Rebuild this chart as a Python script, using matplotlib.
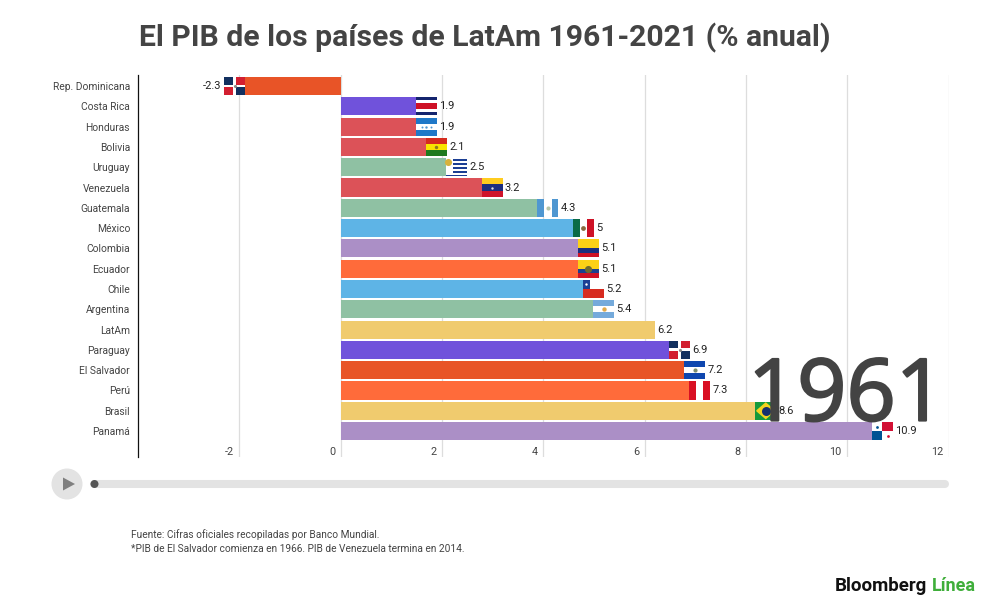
"""PIB de los países de LatAm, cuadro de 1961 de la carrera de barras."""

import matplotlib

matplotlib.use("Agg")
import matplotlib.patheffects as pe
import matplotlib.pyplot as plt
from matplotlib.patches import Circle, Polygon
from matplotlib.transforms import ScaledTranslation

plt.rcParams["font.family"] = ["Roboto", "DejaVu Sans"]

COUNTRIES = [
    "Rep. Dominicana", "Costa Rica", "Honduras", "Bolivia", "Uruguay",
    "Venezuela", "Guatemala", "México", "Colombia", "Ecuador", "Chile",
    "Argentina", "LatAm", "Paraguay", "El Salvador", "Perú", "Brasil", "Panamá",
]
GDP_1961 = [-2.3, 1.9, 1.9, 2.1, 2.5, 3.2, 4.3, 5, 5.1, 5.1, 5.2, 5.4, 6.2,
            6.9, 7.2, 7.3, 8.6, 10.9]
BAR_COLORS = [
    "#E85427", "#7052DB", "#DC5258", "#DC5258", "#8FC1A3", "#DC5258",
    "#8FC1A3", "#5EB4E6", "#AB8FC6", "#FF6B3A", "#5EB4E6", "#8FC1A3",
    "#F0CB6E", "#7052DB", "#E85427", "#FF6B3A", "#F0CB6E", "#AB8FC6",
]
X_TICKS = [-2, 0, 2, 4, 6, 8, 10, 12]

NAVY = "#12305F"
RED = "#D21F30"
WHITE = "#FFFFFF"
# cada bandera: (x0, x1, y0, y1, color) en fracción del rectángulo, y hacia abajo
DOMINICAN = [(0, 1, 0, 1, WHITE), (0, .42, 0, .42, NAVY), (.58, 1, 0, .42, RED),
             (0, .42, .58, 1, RED), (.58, 1, .58, 1, NAVY)]
FLAGS = {
    "Rep. Dominicana": DOMINICAN,
    "Paraguay": DOMINICAN,
    "Costa Rica": [(0, 1, 0, 1, WHITE), (0, 1, 0, .16, "#14246E"),
                   (0, 1, .33, .67, "#CE1126"), (0, 1, .84, 1, "#14246E")],
    "Honduras": [(0, 1, 0, .33, "#1F78C8"), (0, 1, .33, .67, WHITE),
                 (0, 1, .67, 1, "#1F78C8")],
    "Bolivia": [(0, 1, 0, .33, "#D52B1E"), (0, 1, .33, .67, "#F9E300"),
                (0, 1, .67, 1, "#1F7A1F")],
    "Uruguay": [(0, 1, 0, 1, WHITE), (.32, 1, .03, .13, "#1C3F94"),
                (.32, 1, .27, .37, "#1C3F94"), (.32, 1, .5, .6, "#1C3F94"),
                (.32, 1, .73, .83, "#1C3F94"), (0, 1, .92, 1, "#1C3F94")],
    "Venezuela": [(0, 1, 0, .33, "#FFCC1F"), (0, 1, .33, .67, "#1C2F7F"),
                  (0, 1, .67, 1, "#CF142B")],
    "Guatemala": [(0, .33, 0, 1, "#4F97D1"), (.33, .67, 0, 1, WHITE),
                  (.67, 1, 0, 1, "#4F97D1")],
    "México": [(0, .33, 0, 1, "#0B6B47"), (.33, .67, 0, 1, WHITE),
               (.67, 1, 0, 1, "#CE1126")],
    "Colombia": [(0, 1, 0, .5, "#FCD116"), (0, 1, .5, .75, "#1A2F80"),
                 (0, 1, .75, 1, "#CE1126")],
    "Ecuador": [(0, 1, 0, .5, "#FCD116"), (0, 1, .5, .75, "#1A3F90"),
                (0, 1, .75, 1, "#CE1126")],
    "Chile": [(0, 1, 0, .5, WHITE), (0, .33, 0, .5, "#1C3F94"),
              (0, 1, .5, 1, "#D72B1F")],
    "Argentina": [(0, 1, 0, .33, "#75AADB"), (0, 1, .33, .67, WHITE),
                  (0, 1, .67, 1, "#75AADB")],
    "El Salvador": [(0, 1, 0, .33, "#0F47AF"), (0, 1, .33, .67, WHITE),
                    (0, 1, .67, 1, "#0F47AF")],
    "Perú": [(0, .33, 0, 1, "#D91023"), (.33, .67, 0, 1, WHITE),
             (.67, 1, 0, 1, "#D91023")],
    "Brasil": [(0, 1, 0, 1, "#159A3B")],
    "Panamá": [(0, 1, 0, 1, WHITE), (.5, 1, 0, .5, "#D21034"),
               (0, .5, .5, 1, "#005293")],
}
# detalle central de algunas banderas: (x, y, color, tamaño)
EMBLEMS = {
    "Rep. Dominicana": [(.5, .5, "#8A8A8A", 5)],
    "Paraguay": [(.5, .5, "#8A8A8A", 5)],
    "Honduras": [(.5, .5, "#4F97D1", 3), (.3, .5, "#4F97D1", 2), (.7, .5, "#4F97D1", 2)],
    "Bolivia": [(.5, .5, "#8C7A20", 6)],
    "Uruguay": [(.1, .22, "#D6B23C", 26)],
    "Venezuela": [(.5, .5, "#E0E0E0", 3)],
    "Guatemala": [(.5, .5, "#B8C6A8", 9)],
    "México": [(.5, .5, "#8A6A40", 12)],
    "Ecuador": [(.5, .52, "#6F6A30", 26)],
    "Chile": [(.165, .25, WHITE, 3)],
    "Argentina": [(.5, .5, "#E0A94A", 10)],
    "El Salvador": [(.5, .5, "#7F8F70", 9)],
    "Panamá": [(.25, .25, "#005293", 4), (.75, .75, "#D21034", 4)],
}

FLAG_W = 0.415
BAR_H = 0.89
TEXT = "#444444"

fig = plt.figure(figsize=(10, 6.09), dpi=100, facecolor="white")
ax = fig.add_axes([0.138, 1 - 457 / 609, 0.8105, 382 / 609])

rows = list(range(len(COUNTRIES)))
ax.barh(rows, GDP_1961, height=BAR_H, color=BAR_COLORS, zorder=2)

for row, (name, val) in enumerate(zip(COUNTRIES, GDP_1961)):
    x_left = val if val < 0 else val - FLAG_W
    for x0, x1, y0, y1, col in FLAGS.get(name, []):
        ax.barh(row + (y0 - 0.5) * BAR_H, (x1 - x0) * FLAG_W,
                left=x_left + x0 * FLAG_W, height=(y1 - y0) * BAR_H,
                align="edge", color=col, zorder=3)
    for ex, ey, col, size in EMBLEMS.get(name, []):
        ax.scatter(x_left + ex * FLAG_W, row + (ey - 0.5) * BAR_H, s=size,
                   color=col, linewidths=0, zorder=4)
    if name == "Brasil":
        cx = x_left + FLAG_W / 2
        ax.fill([x_left + 0.03, cx, val - 0.03, cx],
                [row, row - 0.38, row, row + 0.38], color="#F4D320", zorder=4)
        ax.scatter(cx, row, s=42, color="#15306F", linewidths=0, zorder=5)
    ax.annotate(f"{val:g}", (val, row), xytext=(-2 if val < 0 else 1.5, 0),
                textcoords="offset points", ha="right" if val < 0 else "left",
                va="center", fontsize=8, color="#222222", zorder=6)

ax.set_xlim(-4, 12)
ax.set_ylim(18.276, -0.542)
ax.set_yticks(rows)
ax.set_yticklabels(COUNTRIES)
ax.set_xticks(X_TICKS)
ax.set_xticklabels([str(t) for t in X_TICKS])
ax.grid(axis="x", color="#DDDDDD", lw=0.9, zorder=0)
ax.set_axisbelow(True)
for name in ("top", "right", "bottom"):
    ax.spines[name].set_visible(False)
ax.spines["left"].set_color("#111111")
ax.spines["left"].set_linewidth(0.9)
ax.tick_params(axis="y", length=0, pad=5.7, labelsize=7.35, labelcolor=TEXT)
ax.tick_params(axis="x", length=0, pad=-7.5, labelsize=7.8, labelcolor=TEXT)
shift = ScaledTranslation(-4 / 72, 0, fig.dpi_scale_trans)
for lab in ax.get_xticklabels():
    lab.set_ha("right")
    lab.set_transform(lab.get_transform() + shift)

# capa en píxeles para título, reproductor, notas y logo
ui = fig.add_axes([0, 0, 1, 1], zorder=5)
ui.set_xlim(0, 1000)
ui.set_ylim(609, 0)
ui.axis("off")
ui.patch.set_alpha(0)

ui.text(485, 37.5, "El PIB de los países de LatAm 1961-2021 (% anual)", ha="center",
        va="center", fontsize=21.7, fontweight="bold", color=TEXT)
ui.text(945, 420.5, "1961", ha="right", va="baseline", fontsize=62,
        family="Open Sans", color="#434343",
        path_effects=[pe.withStroke(linewidth=1.6, foreground="#434343")])

ui.add_patch(Circle((67, 484), 15.5, color="#E3E3E3", lw=0))
ui.add_patch(Polygon([(63, 477.5), (63, 490.5), (75, 484)], color="#7F7F7F", lw=0))
ui.plot([94, 945], [484, 484], color="#E3E3E3", lw=5.8, solid_capstyle="round", zorder=1)
ui.add_patch(Circle((94.5, 484), 4, color="#555555", lw=0, zorder=3))

ui.text(131, 534.5, "Fuente: Cifras oficiales recopiladas por Banco Mundial.",
        va="center", fontsize=7.3, color=TEXT)
ui.text(131, 549, "*PIB de El Salvador comienza en 1966. PIB de Venezuela termina en 2014.",
        va="center", fontsize=7.3, color=TEXT)

ui.text(835, 586, "Bloomberg", va="center", fontsize=13.5, fontweight="bold", color="#111111")
ui.text(976, 586, "Línea", va="center", ha="right", fontsize=13, fontweight="bold",
        color="#3FAE3A")

fig.savefig("out.png", dpi=100)
